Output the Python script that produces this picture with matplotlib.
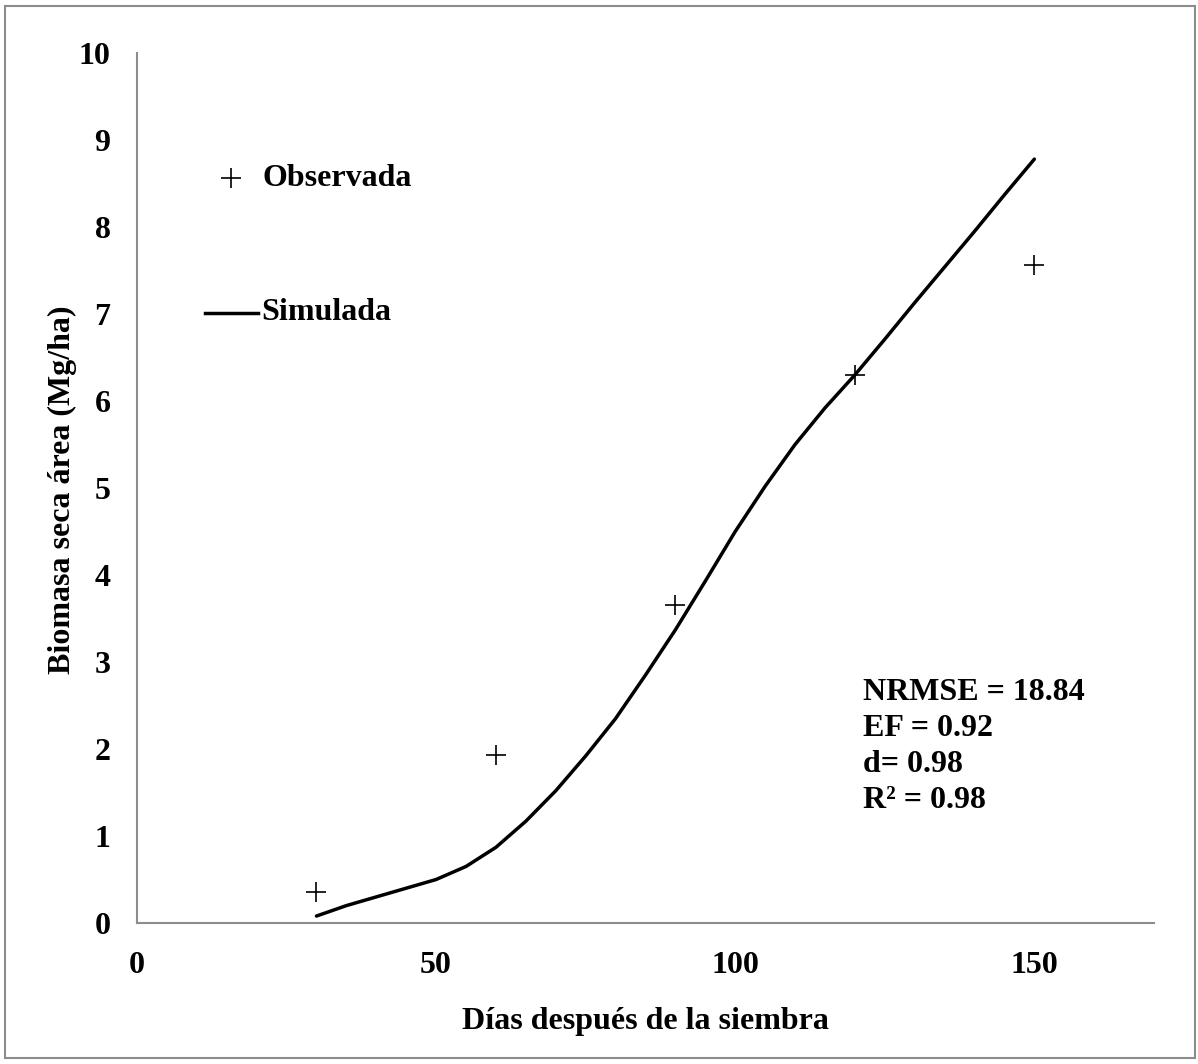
import matplotlib.pyplot as plt
import matplotlib.patches as patches

# Dados observados e simulados
dias_obs = [30, 60, 90, 120, 150]
biomasa_obs = [0.36, 1.93, 3.66, 6.3, 7.56]

dias_sim = [30, 35, 40, 45, 50, 55, 60, 65, 70, 75, 80, 85, 90, 95, 100,
            105, 110, 115, 120, 125, 130, 135, 140, 145, 150]
biomasa_sim = [0.08, 0.2, 0.3, 0.4, 0.5, 0.65, 0.87, 1.17, 1.52, 1.92, 2.35,
               2.85, 3.37, 3.93, 4.5, 5.02, 5.5, 5.92, 6.3, 6.71, 7.13, 7.54,
               7.95, 8.37, 8.78]

xticks = [0, 50, 100, 150]
yticks = list(range(0, 11))
stats = ['NRMSE = 18.84', 'EF = 0.92', 'd= 0.98', 'R² = 0.98']

W, H = 1198, 1064
plt.rcParams['font.family'] = ['Liberation Serif', 'DejaVu Serif']
plt.rcParams['font.weight'] = 'bold'
fs = 23

fig = plt.figure(figsize=(W / 100, H / 100), dpi=100)
ax = fig.add_axes([137 / W, 1 - 923 / H, (1154 - 137) / W, (923 - 53) / H])

ax.plot(dias_sim, biomasa_sim, color='black', linewidth=2.5,
        solid_capstyle='round', solid_joinstyle='round')
ax.plot(dias_obs, biomasa_obs, linestyle='none', marker='+', color='black',
        markersize=15, markeredgewidth=1.2)

ax.set_xlim(0, 170)
ax.set_ylim(0, 10)
ax.set_xticks(xticks)
ax.set_yticks(yticks)
ax.tick_params(length=0, labelsize=fs)
ax.tick_params(axis='y', pad=19)
ax.tick_params(axis='x', pad=20)
for lab in ax.get_xticklabels() + ax.get_yticklabels():
    lab.set_fontweight('bold')

for s in ['top', 'right']:
    ax.spines[s].set_visible(False)
for s in ['left', 'bottom']:
    ax.spines[s].set_color('#8c8c8c')
    ax.spines[s].set_linewidth(1.5)

# Rótulos dos eixos
fig.text(62 / W, 1 - 490 / H, 'Biomasa seca área (Mg/ha)', rotation=90,
         ha='center', va='center', fontsize=fs, fontweight='bold')
fig.text(645 / W, 1 - 1021 / H, 'Días después de la siembra',
         ha='center', va='center', fontsize=fs, fontweight='bold')

# Legenda manual
fig.lines.append(plt.Line2D([231 / W], [1 - 178 / H], marker='+',
                            color='black', markersize=15,
                            markeredgewidth=1.2, transform=fig.transFigure))
fig.lines.append(plt.Line2D([205 / W, 258 / W], [1 - 313 / H, 1 - 313 / H],
                            color='black', linewidth=2.5,
                            transform=fig.transFigure))
fig.text(262 / W, 1 - 178 / H, 'Observada', ha='left', va='center',
         fontsize=fs, fontweight='bold')
fig.text(261 / W, 1 - 313 / H, 'Simulada', ha='left', va='center',
         fontsize=fs, fontweight='bold')

# Estatísticas
for i, txt in enumerate(stats):
    fig.text(863 / W, 1 - (692 + 36 * i) / H, txt, ha='left', va='center',
             fontsize=fs, fontweight='bold')

# Contorno da figura
borda = patches.Rectangle((5 / W, 1 - 1058 / H), (1195 - 5) / W,
                          (1058 - 6) / H, transform=fig.transFigure,
                          fill=False, edgecolor='#8c8c8c', linewidth=1.5)
fig.patches.append(borda)

fig.savefig('out.png', dpi=100)
